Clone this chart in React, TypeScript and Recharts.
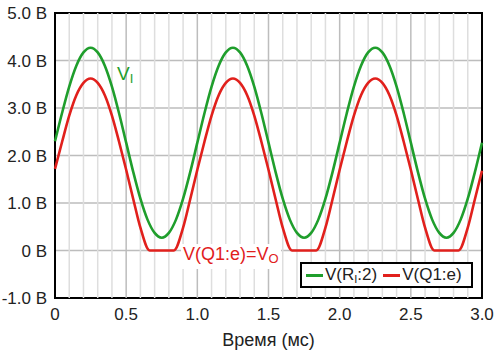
import { CartesianGrid, Line, LineChart, ReferenceArea, ReferenceLine, XAxis, YAxis } from "recharts";

const greenTime = [
  0, 0.05, 0.1, 0.15, 0.2, 0.25, 0.3, 0.35, 0.4, 0.45, 0.5, 0.55, 0.6, 0.65, 0.7, 0.75, 0.8, 0.85, 0.9, 0.95,
  1.0, 1.05, 1.1, 1.15, 1.2, 1.25, 1.3, 1.35, 1.4, 1.45, 1.5, 1.55, 1.6, 1.65, 1.7, 1.75, 1.8, 1.85, 1.9, 1.95,
  2.0, 2.05, 2.1, 2.15, 2.2, 2.25, 2.3, 2.35, 2.4, 2.45, 2.5, 2.55, 2.6, 2.65, 2.7, 2.75, 2.8, 2.85, 2.9, 2.95,
  3.0
];
const greenVolts = [
  2.3, 2.9, 3.45, 3.89, 4.17, 4.27, 4.17, 3.89, 3.45, 2.89, 2.27, 1.65, 1.09, 0.65, 0.37, 0.27, 0.37, 0.65, 1.09, 1.65,
  2.27, 2.89, 3.45, 3.89, 4.17, 4.27, 4.17, 3.89, 3.45, 2.89, 2.27, 1.65, 1.09, 0.65, 0.37, 0.27, 0.37, 0.65, 1.09, 1.65,
  2.27, 2.89, 3.45, 3.89, 4.17, 4.27, 4.17, 3.89, 3.45, 2.89, 2.27, 1.65, 1.09, 0.65, 0.37, 0.27, 0.37, 0.65, 1.09, 1.65,
  2.27
];

const redTime = [
  0, 0.05, 0.1, 0.15, 0.2, 0.25, 0.3, 0.35, 0.4, 0.45, 0.5, 0.55, 0.6, 0.665, 0.7, 0.75, 0.8, 0.835, 0.9, 0.95,
  1.0, 1.05, 1.1, 1.15, 1.2, 1.25, 1.3, 1.35, 1.4, 1.45, 1.5, 1.55, 1.6, 1.665, 1.7, 1.75, 1.8, 1.835, 1.9, 1.95,
  2.0, 2.05, 2.1, 2.15, 2.2, 2.25, 2.3, 2.35, 2.4, 2.45, 2.5, 2.55, 2.6, 2.665, 2.7, 2.75, 2.8, 2.835, 2.9, 2.95,
  3.0
];
const redVolts = [
  1.72, 2.29, 2.84, 3.27, 3.53, 3.62, 3.53, 3.27, 2.84, 2.29, 1.7, 1.08, 0.48, 0, 0, 0, 0, 0, 0.48, 1.08,
  1.7, 2.29, 2.84, 3.27, 3.53, 3.62, 3.53, 3.27, 2.84, 2.29, 1.7, 1.08, 0.48, 0, 0, 0, 0, 0, 0.48, 1.08,
  1.7, 2.29, 2.84, 3.27, 3.53, 3.62, 3.53, 3.27, 2.84, 2.29, 1.7, 1.08, 0.48, 0, 0, 0, 0, 0, 0.48, 1.08,
  1.68
];

const xTicks = [0, 0.5, 1.0, 1.5, 2.0, 2.5, 3.0];
const yTicks = [-1, 0, 1, 2, 3, 4, 5];
const minorTimes = [
  0.1, 0.2, 0.3, 0.4, 0.6, 0.7, 0.8, 0.9, 1.1, 1.2, 1.3, 1.4, 1.6, 1.7, 1.8, 1.9,
  2.1, 2.2, 2.3, 2.4, 2.6, 2.7, 2.8, 2.9
];

const greenData = greenTime.map((t, i) => ({ t, v: greenVolts[i] }));
const redData = redTime.map((t, i) => ({ t, v: redVolts[i] }));

const GREEN = "#1f9e2c";
const RED = "#e1201c";
const FONT = "'Liberation Sans', Arial, sans-serif";

function formatVolt(v: number): string {
  if (v === 0) return "0 В";
  if (v < 0) return `-${Math.abs(v).toFixed(1)} В`;
  return `${v.toFixed(1)} В`;
}

export default function App() {
  return (
    <div style={{ position: "absolute", left: 0, top: 0, width: 500, height: 351, background: "#fff", fontFamily: FONT }}>
      <LineChart width={500} height={351} margin={{ top: 13, right: 18, bottom: 0, left: 0 }}>
        <CartesianGrid vertical={false} stroke="#bdbdbd" strokeWidth={1.5} />
        {minorTimes.map((t) => (
          <ReferenceLine key={t} x={t} stroke="#dedede" strokeWidth={1.5} />
        ))}
        {xTicks.slice(1, -1).map((t) => (
          <ReferenceLine key={`m${t}`} x={t} stroke="#bdbdbd" strokeWidth={1.5} />
        ))}
        <XAxis
          dataKey="t"
          type="number"
          domain={[0, 3]}
          ticks={xTicks}
          tickFormatter={(v: number) => (v === 0 ? "0" : v.toFixed(1))}
          allowDuplicatedCategory={false}
          height={53}
          axisLine={false}
          tickLine={false}
          tickSize={0}
          tickMargin={10}
          tick={{ fill: "#222", fontSize: 17, fontFamily: FONT }}
          label={{ value: "Время (мс)", position: "insideBottom", offset: 5, fill: "#222", fontSize: 18, fontFamily: FONT }}
        />
        <YAxis
          type="number"
          domain={[-1, 5]}
          ticks={yTicks}
          tickFormatter={formatVolt}
          width={55}
          axisLine={false}
          tickLine={false}
          tickSize={0}
          tickMargin={8}
          tick={{ fill: "#222", fontSize: 17, fontFamily: FONT }}
        />
        <Line
          data={greenData}
          dataKey="v"
          type="monotone"
          stroke={GREEN}
          strokeWidth={2.6}
          dot={false}
          isAnimationActive={false}
        />
        <Line
          data={redData}
          dataKey="v"
          type="monotone"
          stroke={RED}
          strokeWidth={2.6}
          dot={false}
          isAnimationActive={false}
        />
        <ReferenceArea x1={0} x2={3} y1={-1} y2={5} fill="none" stroke="#000" strokeWidth={2} />
      </LineChart>

      <div style={{ position: "absolute", left: 117, top: 64, color: GREEN, fontSize: 19, lineHeight: "20px" }}>
        V<sub style={{ fontSize: 13, verticalAlign: "-3px" }}>I</sub>
      </div>

      <div
        style={{
          position: "absolute",
          left: 181,
          top: 244,
          color: RED,
          fontSize: 18,
          lineHeight: "20px",
          background: "#fff",
          padding: "0 2px"
        }}
      >
        V(Q1:e)=V<sub style={{ fontSize: 13, verticalAlign: "-3px" }}>O</sub>
      </div>

      <div
        style={{
          position: "absolute",
          left: 300,
          top: 262,
          width: 169,
          height: 22,
          border: "2px solid #000",
          background: "#fff",
          display: "flex",
          alignItems: "center",
          fontSize: 17,
          color: "#222",
          whiteSpace: "nowrap"
        }}
      >
        <span style={{ display: "inline-block", width: 17, height: 3, background: GREEN, marginLeft: 4, marginRight: 2 }} />
        <span>
          V(R<sub style={{ fontSize: 11, verticalAlign: "-3px" }}>I</sub>:2)
        </span>
        <span style={{ display: "inline-block", width: 17, height: 3, background: RED, marginLeft: 6, marginRight: 2 }} />
        <span>V(Q1:e)</span>
      </div>
    </div>
  );
}
